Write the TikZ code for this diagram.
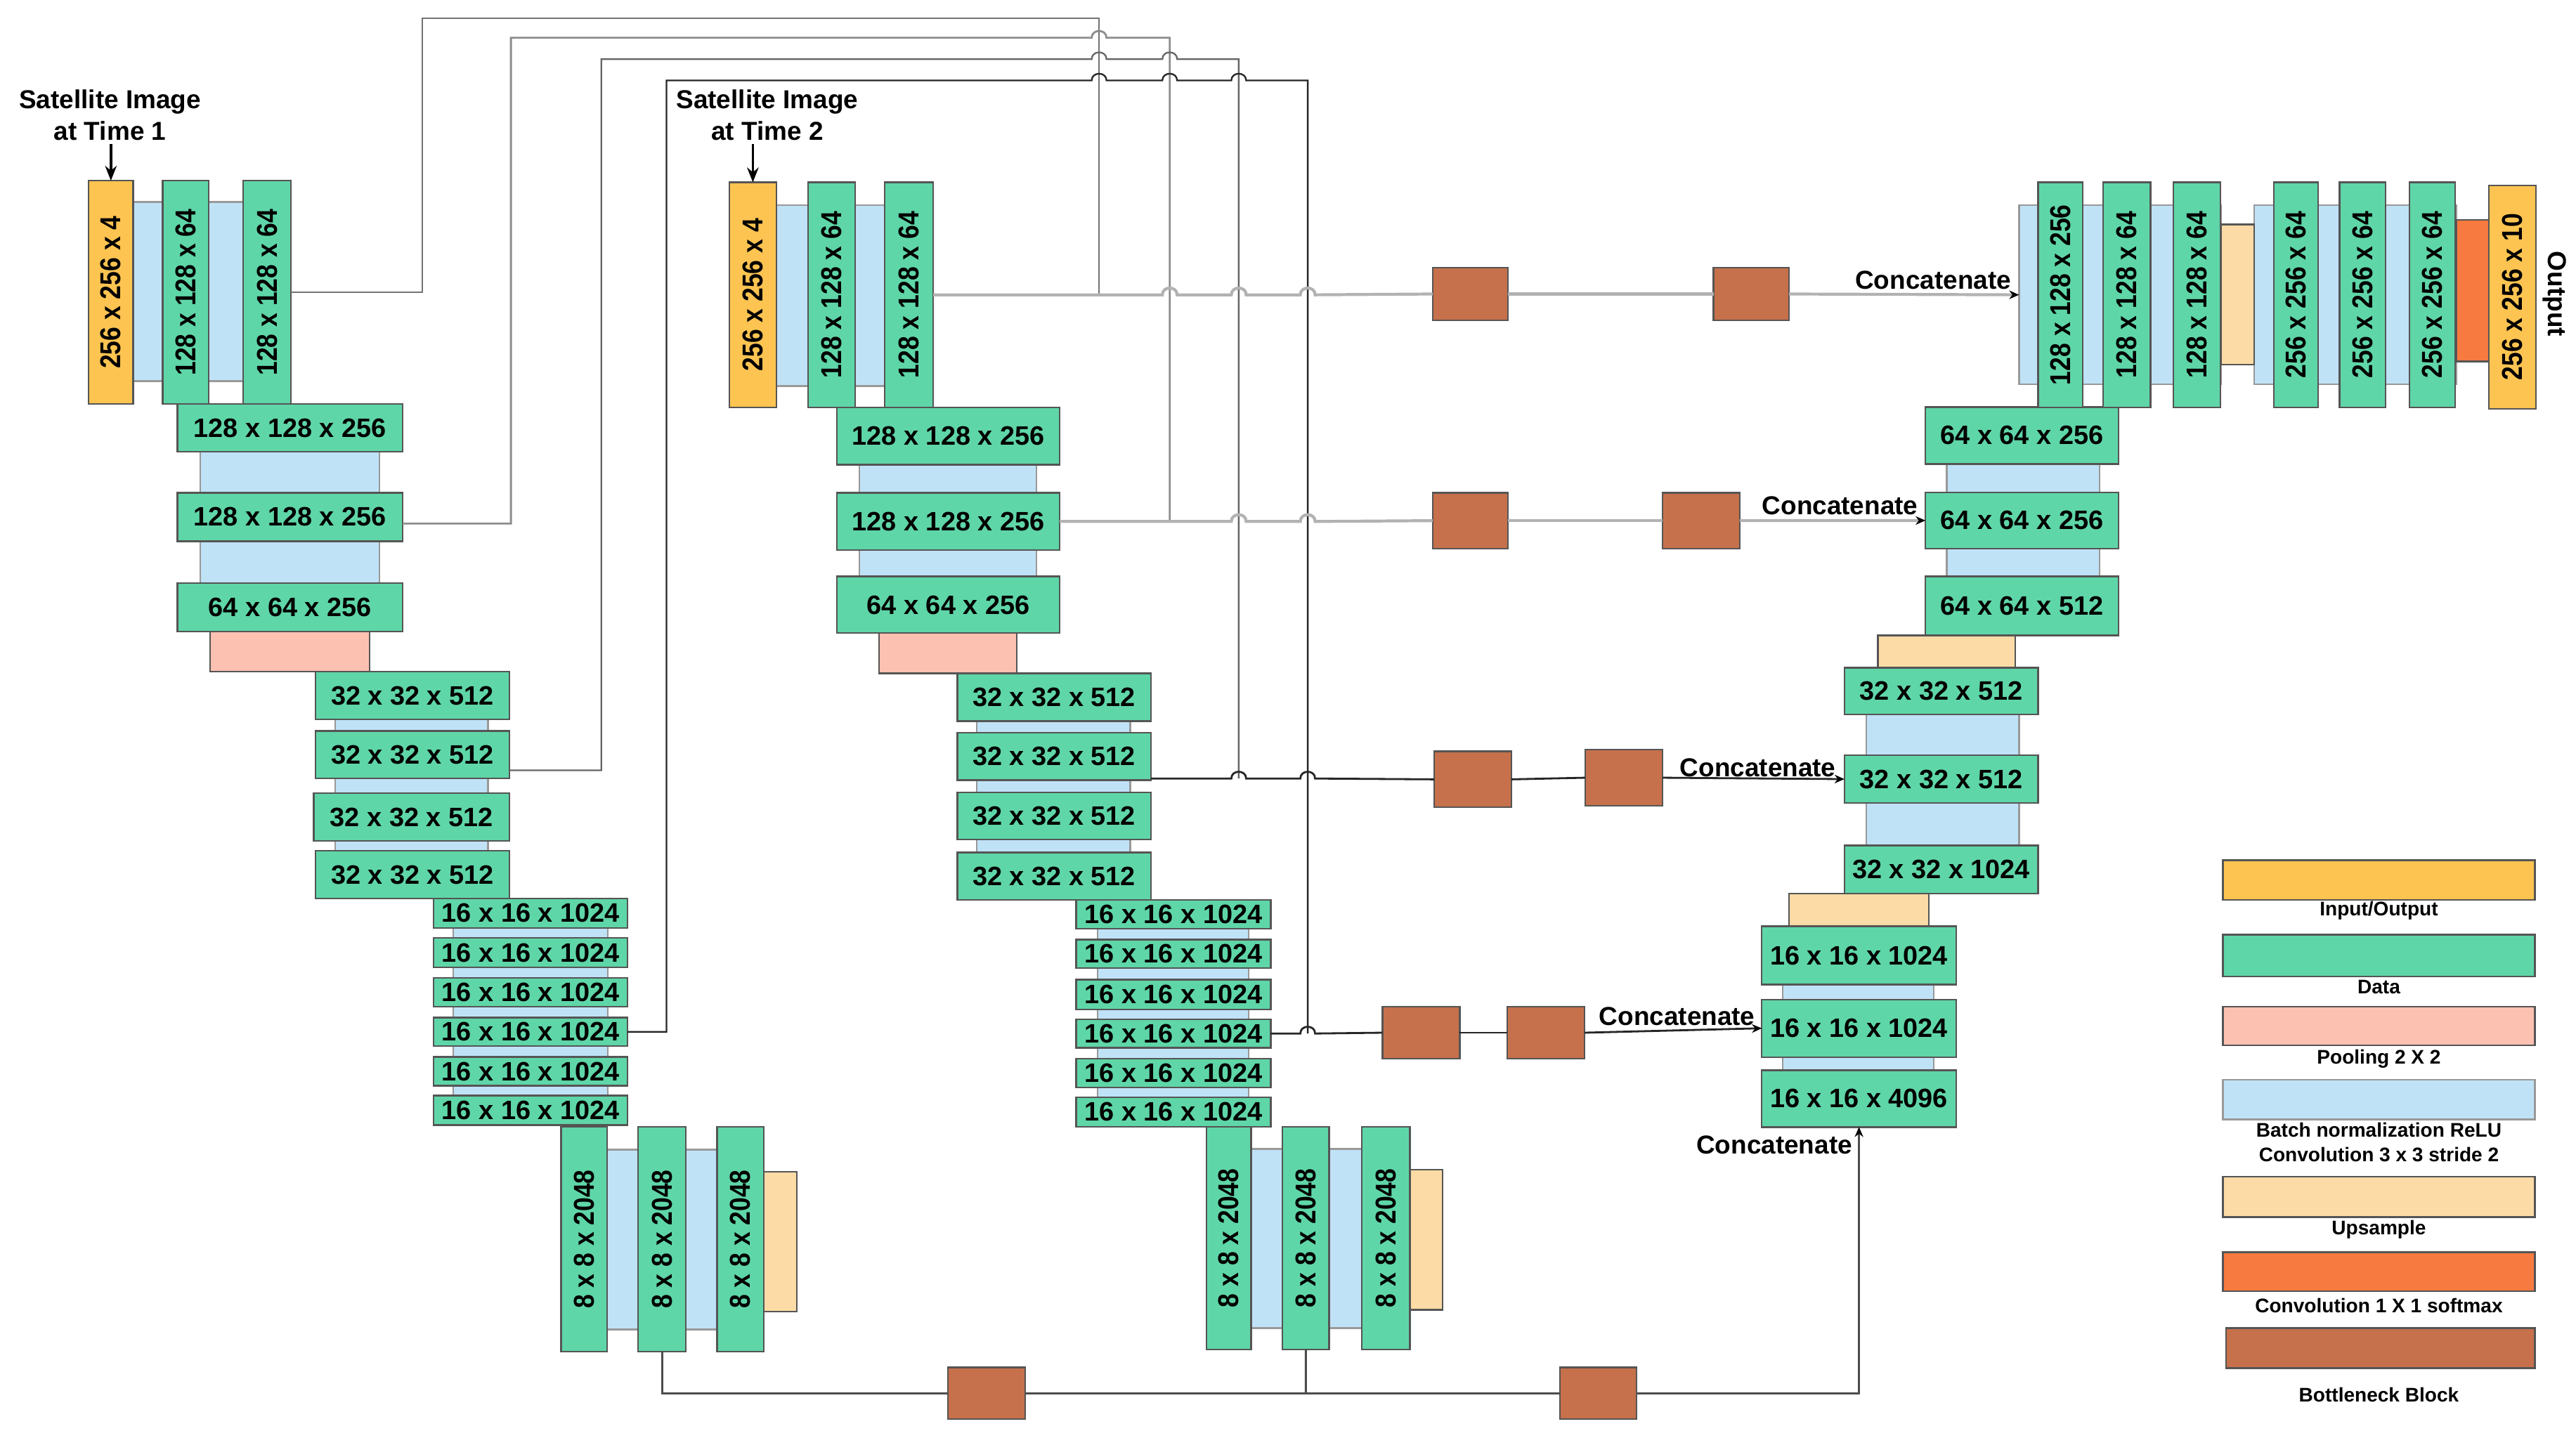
\documentclass[tikz,border=0pt]{standalone}
\usepackage{fontspec}
\setmainfont{Liberation Sans}
\usepackage{graphicx}
\usetikzlibrary{arrows.meta,calc}
\definecolor{cyel}{HTML}{FEC451}
\definecolor{cgrn}{HTML}{5FD6A8}
\definecolor{cpink}{HTML}{FDC1B2}
\definecolor{cblue}{HTML}{C0E2F7}
\definecolor{ctan}{HTML}{FDDBA6}
\definecolor{corg}{HTML}{F77A40}
\definecolor{cbrn}{HTML}{C6714B}
\definecolor{cedge}{HTML}{555555}
\newcommand\ubox[7]{\node[#1,minimum width={(#4-#2)*0.5pt},minimum height={(#5-#3)*0.5pt}] (#6) at ({(#2+#4)/2},{(#3+#5)/2}) {#7};}
\newcommand\vt[1]{\rotatebox{90}{\scalebox{1}[1.15]{\fontsize{7.6}{9}\selectfont #1}}}
\begin{document}
\begin{tikzpicture}[x=0.5pt,y=-0.5pt,
  base/.style={inner sep=0pt,outer sep=0pt,draw=cedge,line width=0.5pt,font=\bfseries\fontsize{8.1}{9}\selectfont},
  ybox/.style={base,fill=cyel},
  gbox/.style={base,fill=cgrn},
  pbox/.style={base,fill=cpink},
  bbox/.style={base,fill=cblue,draw=black!40},
  tbox/.style={base,fill=ctan},
  obox/.style={base,fill=corg},
  rbox/.style={base,fill=cbrn},
  ttl/.style={align=center,inner sep=1pt,font=\bfseries\fontsize{7.9}{9.5}\selectfont},
  catlbl/.style={inner sep=0pt,font=\bfseries\fontsize{7.9}{9}\selectfont},
  leglbl/.style={inner sep=0pt,align=center,font=\bfseries\fontsize{6}{7.6}\selectfont},
  inarr/.style={line width=0.8pt,-{Stealth[length=4.5pt,width=3.5pt]}},
  cat/.style={-{Stealth[length=3pt,width=2.6pt,color=black]}},
  lA/.style={draw=black!55,line width=0.5pt},
  lB/.style={draw=black!45,line width=0.6pt},
  lC/.style={draw=black!60,line width=0.5pt},
  lD/.style={draw=black!85,line width=0.5pt},
  rowA/.style={draw=black!30,line width=0.9pt},
  rowB/.style={draw=black!85,line width=0.6pt},
  botln/.style={draw=black!70,line width=0.6pt},
  hop/.style args={#1/#2}{insert path={-- ({#1-4.5},#2) .. controls ({#1-4.5},{#2-5.5}) and ({#1+4.5},{#2-5.5}) .. ({#1+4.5},#2)}}
]
\useasboundingbox (0,0) rectangle (1568,871.2);

% ---------- Encoder, time 1 ----------
\ubox{bbox}{81}{123}{99}{232}{t1bA}{}
\ubox{bbox}{126}{123}{149}{232}{t1bB}{}
\ubox{ybox}{54}{110}{81}{246}{t1in}{\vt{256 x 256 x 4}}
\ubox{gbox}{99}{110}{127}{246}{t1g1}{\vt{128 x 128 x 64}}
\ubox{gbox}{148}{110}{177}{246}{t1g2}{\vt{128 x 128 x 64}}
\ubox{bbox}{122}{270}{231}{360}{t1bC}{}
\ubox{gbox}{108}{246}{245}{275}{t1c1}{128 x 128 x 256}
\ubox{gbox}{108}{300}{245}{329.5}{t1c2}{128 x 128 x 256}
\ubox{gbox}{108}{355}{245}{384.5}{t1c3}{64 x 64 x 256}
\ubox{pbox}{128}{384.5}{225}{409}{t1pool}{}
\ubox{bbox}{204}{430}{297}{530}{t1bD}{}
\ubox{gbox}{192}{409}{310}{438}{t1d1}{32 x 32 x 512}
\ubox{gbox}{192}{445}{310}{474}{t1d2}{32 x 32 x 512}
\ubox{gbox}{191}{483}{310}{512}{t1d3}{32 x 32 x 512}
\ubox{gbox}{192}{518}{310}{547}{t1d4}{32 x 32 x 512}
\ubox{bbox}{276}{560}{370}{675}{t1bE}{}
\ubox{gbox}{264}{547}{382}{565}{t1e1}{16 x 16 x 1024}
\ubox{gbox}{264}{571}{382}{589}{t1e2}{16 x 16 x 1024}
\ubox{gbox}{264}{595.5}{382}{613}{t1e3}{16 x 16 x 1024}
\ubox{gbox}{264}{619.5}{382}{637}{t1e4}{16 x 16 x 1024}
\ubox{gbox}{264}{643.5}{382}{661}{t1e5}{16 x 16 x 1024}
\ubox{gbox}{264}{667}{382}{685}{t1e6}{16 x 16 x 1024}
\ubox{bbox}{369.5}{700}{388.5}{809.5}{t1bF}{}
\ubox{bbox}{417.5}{700}{436.5}{809.5}{t1bG}{}
\ubox{gbox}{341.5}{686}{369.5}{823}{t1f1}{\vt{8 x 8 x 2048}}
\ubox{gbox}{388.5}{686}{417.5}{823}{t1f2}{\vt{8 x 8 x 2048}}
\ubox{gbox}{436.5}{686}{465}{823}{t1f3}{\vt{8 x 8 x 2048}}
\ubox{tbox}{465}{713.5}{485}{798.5}{t1up}{}

% ---------- Encoder, time 2 ----------
\ubox{bbox}{472.5}{125}{492}{235}{t2bA}{}
\ubox{bbox}{520.5}{125}{538.5}{235}{t2bB}{}
\ubox{ybox}{444}{111}{472.5}{248}{t2in}{\vt{256 x 256 x 4}}
\ubox{gbox}{492}{111}{520.5}{248}{t2g1}{\vt{128 x 128 x 64}}
\ubox{gbox}{538.5}{111}{568}{248}{t2g2}{\vt{128 x 128 x 64}}
\ubox{bbox}{523}{270}{631}{360}{t2bC}{}
\ubox{gbox}{509.5}{248}{645}{283}{t2c1}{128 x 128 x 256}
\ubox{gbox}{509.5}{300}{645}{335}{t2c2}{128 x 128 x 256}
\ubox{gbox}{509.5}{351}{645}{385.5}{t2c3}{64 x 64 x 256}
\ubox{pbox}{535}{385.5}{619}{410}{t2pool}{}
\ubox{bbox}{594.4}{430}{688}{530}{t2bD}{}
\ubox{gbox}{582.7}{410}{700.6}{439}{t2d1}{32 x 32 x 512}
\ubox{gbox}{582.7}{446}{700.6}{475}{t2d2}{32 x 32 x 512}
\ubox{gbox}{582.7}{482.5}{700.6}{511}{t2d3}{32 x 32 x 512}
\ubox{gbox}{582.7}{519}{700.6}{548}{t2d4}{32 x 32 x 512}
\ubox{bbox}{668}{560}{760}{675}{t2bE}{}
\ubox{gbox}{655}{548}{773.5}{565.5}{t2e1}{16 x 16 x 1024}
\ubox{gbox}{655}{572}{773.5}{589.5}{t2e2}{16 x 16 x 1024}
\ubox{gbox}{655}{596.5}{773.5}{614.5}{t2e3}{16 x 16 x 1024}
\ubox{gbox}{655}{620.5}{773.5}{638}{t2e4}{16 x 16 x 1024}
\ubox{gbox}{655}{644.5}{773.5}{662}{t2e5}{16 x 16 x 1024}
\ubox{gbox}{655}{668}{773.5}{686}{t2e6}{16 x 16 x 1024}
\ubox{bbox}{761.5}{699.5}{780.7}{808.6}{t2bF}{}
\ubox{bbox}{809}{699.5}{828.8}{808.6}{t2bG}{}
\ubox{gbox}{734.5}{686}{761.5}{821.5}{t2f1}{\vt{8 x 8 x 2048}}
\ubox{gbox}{780.7}{686}{809}{821.5}{t2f2}{\vt{8 x 8 x 2048}}
\ubox{gbox}{828.8}{686}{858.2}{821.5}{t2f3}{\vt{8 x 8 x 2048}}
\ubox{tbox}{858.2}{712}{878}{797.5}{t2up}{}

% ---------- Bottleneck blocks ----------
\ubox{rbox}{872}{163}{918}{195}{r1a}{}
\ubox{rbox}{1043}{163}{1089}{195}{r1b}{}
\ubox{rbox}{872}{300}{918}{334}{r2a}{}
\ubox{rbox}{1012}{300}{1059}{334}{r2b}{}
\ubox{rbox}{873}{457.5}{920}{491.5}{r3a}{}
\ubox{rbox}{965}{456.5}{1012}{490.5}{r3b}{}
\ubox{rbox}{841.5}{613}{888.5}{644.5}{r4a}{}
\ubox{rbox}{917.5}{613}{964.5}{644.5}{r4b}{}
\ubox{rbox}{577}{832.5}{624}{864}{r5a}{}
\ubox{rbox}{949.5}{832.5}{996}{864}{r5b}{}

% ---------- Decoder ----------
\ubox{bbox}{1085}{590}{1177}{660}{kb}{}
\ubox{gbox}{1072.4}{651.6}{1190.7}{686.2}{k1}{16 x 16 x 4096}
\ubox{gbox}{1072.4}{608.5}{1190.7}{643.6}{k2}{16 x 16 x 1024}
\ubox{gbox}{1072.4}{564}{1190.7}{599.5}{k3}{16 x 16 x 1024}
\ubox{tbox}{1089}{544}{1174}{564}{kup}{}
\ubox{bbox}{1136}{430}{1229}{520}{jb}{}
\ubox{gbox}{1122.7}{514.7}{1240.6}{544}{j1}{32 x 32 x 1024}
\ubox{gbox}{1122.7}{459.7}{1240.6}{489}{j2}{32 x 32 x 512}
\ubox{gbox}{1122.7}{406.6}{1240.6}{435}{j3}{32 x 32 x 512}
\ubox{tbox}{1143}{386.8}{1226.6}{406.6}{jup}{}
\ubox{bbox}{1185}{275}{1278}{360}{hb}{}
\ubox{gbox}{1172}{351}{1289.5}{386.8}{h1}{64 x 64 x 512}
\ubox{gbox}{1172}{299.8}{1289.5}{334}{h2}{64 x 64 x 256}
\ubox{gbox}{1172}{247.8}{1289.5}{282.5}{h3}{64 x 64 x 256}
\ubox{bbox}{1229}{125}{1352}{234}{tb1}{}
\ubox{bbox}{1372}{125}{1495}{234}{tb2}{}
\ubox{gbox}{1240.6}{111}{1267.6}{248}{u1}{\vt{128 x 128 x 256}}
\ubox{gbox}{1280}{111}{1309}{248}{u2}{\vt{128 x 128 x 64}}
\ubox{gbox}{1323}{111}{1351.6}{248}{u3}{\vt{128 x 128 x 64}}
\ubox{tbox}{1352}{136.7}{1372}{222}{uup}{}
\ubox{gbox}{1384}{111}{1411}{248}{u4}{\vt{256 x 256 x 64}}
\ubox{gbox}{1424}{111}{1452}{248}{u5}{\vt{256 x 256 x 64}}
\ubox{gbox}{1466.6}{111}{1494.5}{248}{u6}{\vt{256 x 256 x 64}}
\ubox{obox}{1495}{134}{1515}{220}{uconv}{}
\ubox{ybox}{1515}{112.8}{1543.5}{248.8}{uout}{\vt{256 x 256 x 10}}
\node[catlbl,rotate=-90] (outlbl) at (1555,179) {Output};

% ---------- Titles ----------
\node[ttl] (lab1) at (67,70) {Satellite Image\\at Time 1};
\node[ttl] (lab2) at (467,70) {Satellite Image\\at Time 2};
\draw[inarr] (lab1.south -| t1in.north) -- (t1in.north);
\draw[inarr] (lab2.south -| t2in.north) -- (t2in.north);

% ---------- Junctions ----------
\coordinate (J1) at (669,179.5);
\coordinate (J2) at (712,317.5);
\coordinate (J3) at (754,474);
\coordinate (J4) at (796,629.25);
\coordinate (J5) at (794.85,848.25);

% ---------- Skip lines from time 1 ----------
\draw[lA] (t1g2.east) -| (257,11) -| (J1);
\draw[lB] ($(t1c2.east)+(0,4)$) -| (311,23) [hop=669/23] -- (712,23) -- (J2);
\draw[lC] ($(t1d2.east)+(0,9.5)$) -| (366,36) [hop=669/36] [hop=712/36] -- (754,36) -- (J3);
\draw[lD] (t1e4.east) -| (405.7,49) [hop=669/49] [hop=712/49] [hop=754/49] -- (796,49) -- (J4);

% ---------- Rows from time 2 ----------
\draw[rowA] (t2g2.east) -- (J1) [hop=712/179.5] [hop=754/179.5] [hop=796/179.5] -- (r1a.west);
\draw[rowA] (r1a.east) -- (r1b.west);
\draw[rowA,cat] (r1b.east) -- (tb1.west);
\draw[rowA] (t2c2.east) -- (J2) [hop=754/317.5] [hop=796/317.5] -- (r2a.west);
\draw[rowA] (r2a.east) -- (r2b.west);
\draw[rowA,cat] (r2b.east) -- (h2.west);
\draw[rowB] ($(t2d2.south east)+(0,-1)$) [hop=754/474] [hop=796/474] -- (r3a.west);
\draw[rowB] (r3a.east) -- (r3b.west);
\draw[rowB,cat] (r3b.east) -- (j2.west);
\draw[rowB] (t2e4.east) [hop=796/629.25] -- (r4a.west);
\draw[rowB] (r4a.east) -- (r4b.west);
\draw[rowB,cat] (r4b.east) -- (k2.west);

% ---------- Bottom ----------
\draw[botln] (t1f2.south) |- (r5a.west);
\draw[botln] (r5a.east) -- (r5b.west);
\draw[botln] (t2f2.south) -- (J5);
\draw[botln,cat] (r5b.east) -| (k1.south);

% ---------- Concatenate labels ----------
\node[catlbl] (cat1) at (1176.7,170.5) {Concatenate};
\node[catlbl] (cat2) at (1120,308) {Concatenate};
\node[catlbl] (cat3) at (1070,467.5) {Concatenate};
\node[catlbl] (cat4) at (1020.8,619) {Concatenate};
\node[catlbl] (cat5) at (1080,697) {Concatenate};

% ---------- Legend ----------
\ubox{ybox}{1353}{523.8}{1543}{548}{leg1}{}
\ubox{gbox}{1353}{569}{1543}{594.6}{leg2}{}
\ubox{pbox}{1353}{612.8}{1543}{636.3}{leg3}{}
\ubox{bbox}{1353}{657.4}{1543}{681.6}{leg4}{}
\ubox{tbox}{1353}{716.4}{1543}{741}{leg5}{}
\ubox{obox}{1353}{762.4}{1543}{786}{leg6}{}
\ubox{rbox}{1355}{808.6}{1543}{833}{leg7}{}
\node[leglbl] (lt1) at (1448,554.5) {Input/Output};
\node[leglbl] (lt2) at (1448,600.8) {Data};
\node[leglbl] (lt3) at (1448,644.5) {Pooling 2 X 2};
\node[leglbl] (lt4) at (1448,695.4) {Batch normalization ReLU\\Convolution 3 x 3 stride 2};
\node[leglbl] (lt5) at (1448,748.8) {Upsample};
\node[leglbl] (lt6) at (1448,794.7) {Convolution 1 X 1 softmax};
\node[leglbl] (lt7) at (1448,849) {Bottleneck Block};
\end{tikzpicture}
\end{document}
